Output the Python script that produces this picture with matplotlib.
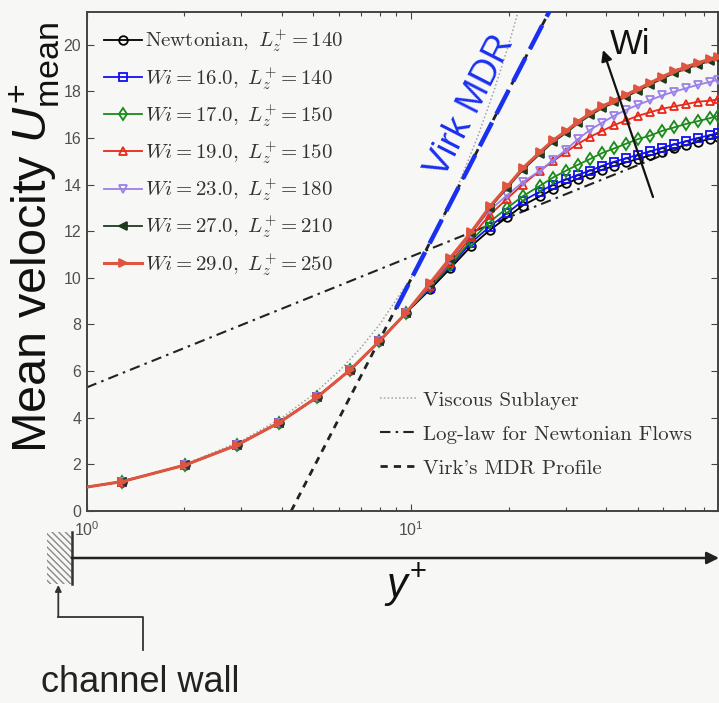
import matplotlib
matplotlib.use('Agg')
import matplotlib.pyplot as plt
from matplotlib.patches import Rectangle
from matplotlib.font_manager import FontProperties

plt.rcParams['mathtext.fontset'] = 'custom'
plt.rcParams['mathtext.rm'] = 'Liberation Sans'
plt.rcParams['mathtext.it'] = 'Liberation Sans:italic'
plt.rcParams['mathtext.bf'] = 'Liberation Sans:bold'
plt.rcParams['font.family'] = ['Liberation Sans', 'DejaVu Sans']
plt.rcParams['hatch.color'] = '#666666'
plt.rcParams['hatch.linewidth'] = 1.0

# ---------------- data ----------------
yplus = [0.72, 1.285, 2.01, 2.91, 3.92, 5.13, 6.49, 7.97, 9.63,
         11.44, 13.2, 15.3, 17.5, 19.8, 22.1, 25.0, 27.4, 30.1, 32.7, 35.7,
         38.8, 42.3, 46.0, 50.1, 54.6, 59.4, 64.7, 70.5, 76.7, 83.6, 88.4]
u_near_wall = [0.72, 1.26, 1.97, 2.83, 3.79, 4.88, 6.05, 7.27, 8.48]

u_newt = [9.50, 10.40, 11.35, 12.05, 12.60, 13.10, 13.50, 13.80, 14.05, 14.25, 14.45,
          14.63, 14.80, 14.95, 15.10, 15.25, 15.40, 15.55, 15.70, 15.83, 15.96, 16.05]
u_wi16 = [9.56, 10.49, 11.50, 12.20, 12.78, 13.30, 13.70, 14.00, 14.22, 14.42, 14.60,
          14.80, 14.98, 15.12, 15.28, 15.42, 15.58, 15.72, 15.86, 16.00, 16.12, 16.22]
u_wi17 = [9.60, 10.55, 11.60, 12.40, 13.00, 13.50, 13.95, 14.30, 14.60, 14.85, 15.10,
          15.35, 15.55, 15.75, 15.95, 16.10, 16.30, 16.45, 16.60, 16.72, 16.85, 16.95]
u_wi19 = [9.65, 10.65, 11.75, 12.70, 13.40, 14.00, 14.60, 15.00, 15.40, 15.75, 16.05,
          16.30, 16.55, 16.75, 16.95, 17.10, 17.25, 17.35, 17.45, 17.55, 17.60, 17.65]
u_wi23 = [9.70, 10.75, 11.90, 12.90, 13.55, 14.10, 14.60, 15.05, 15.50, 15.95, 16.35,
          16.65, 16.95, 17.20, 17.42, 17.62, 17.82, 17.98, 18.13, 18.28, 18.40, 18.50]
u_wi27 = [9.75, 10.82, 11.92, 13.00, 13.85, 14.62, 15.32, 15.82, 16.22, 16.62, 16.97,
          17.27, 17.52, 17.77, 18.02, 18.28, 18.54, 18.77, 18.97, 19.14, 19.30, 19.38]
u_wi29 = [9.77, 10.85, 11.95, 13.06, 13.92, 14.70, 15.40, 15.90, 16.30, 16.70, 17.05,
          17.35, 17.60, 17.85, 18.10, 18.36, 18.62, 18.85, 19.05, 19.22, 19.38, 19.45]

series_labels = [r'$\mathrm{Newtonian},\ L_z^{+}=140$',
                 r'$Wi=16.0,\ L_z^{+}=140$',
                 r'$Wi=17.0,\ L_z^{+}=150$',
                 r'$Wi=19.0,\ L_z^{+}=150$',
                 r'$Wi=23.0,\ L_z^{+}=180$',
                 r'$Wi=27.0,\ L_z^{+}=210$',
                 r'$Wi=29.0,\ L_z^{+}=250$']
ref_labels = ['Viscous Sublayer', 'Log-law for Newtonian Flows', "Virk's MDR Profile"]

# reference laws (values at line end points / sample points)
visc_y = [1, 1.5, 2, 3, 4, 5, 6, 7, 8, 10, 12, 14, 16, 18, 20, 22]
visc_u = [1, 1.5, 2, 3, 4, 5, 6, 7, 8, 10, 12, 14, 16, 18, 20, 22]
loglaw_y = [1.0, 88.4]
loglaw_u = [5.30, 16.22]
mdr_y = [4.27, 30.0]
mdr_u = [0.0, 22.79]
mdr_hand_y = [9.0, 30.0]
mdr_hand_u = [8.7, 22.79]

yticks = [0, 2, 4, 6, 8, 10, 12, 14, 16, 18, 20]

# ---------------- figure ----------------
W, H = 719, 703
bg = '#f7f8f6'
fig = plt.figure(figsize=(W / 100, H / 100), dpi=100)
fig.patch.set_facecolor(bg)

x0, x1, ytop, ybot = 86.7, 718.0, 12.0, 511.0
ax = fig.add_axes([x0 / W, (H - ybot) / H, (x1 - x0) / W, (ybot - ytop) / H])
ax.set_facecolor(bg)
ax.set_xscale('log')
ax.set_xlim(1, 88.4)
ax.set_ylim(0, 21.4)
ax.set_yticks(yticks)

# reference lines
l_visc, = ax.plot(visc_y, visc_u, color='#a0a0a0', lw=1.1, ls=(0, (1, 1.5)), zorder=1)
l_log, = ax.plot(loglaw_y, loglaw_u, color='#222222', lw=1.5,
                 dashes=(5, 2.5, 1.2, 2.5), zorder=1)
l_mdr, = ax.plot(mdr_y, mdr_u, color='#222222', lw=2.0, dashes=(2.6, 2.2), zorder=1)

styles = [
    dict(color='black', marker='o', mfc='none'),
    dict(color='#1010f0', marker='s', mfc='none'),
    dict(color='#1a8a1a', marker='d', mfc='none'),
    dict(color='#e8281a', marker='^', mfc='none'),
    dict(color='#9a80e8', marker='v', mfc='none'),
    dict(color='#1e3a1e', marker='<', mfc='#1e3a1e'),
    dict(color='#e0553f', marker='>', mfc='#e0553f'),
]
tails = [u_newt, u_wi16, u_wi17, u_wi19, u_wi23, u_wi27, u_wi29]
handles = []
for i, (tail, st, lab) in enumerate(zip(tails, styles, series_labels)):
    lw = 2.2 if i == 6 else 1.3
    h, = ax.plot(yplus, u_near_wall + tail, lw=lw, ms=6.2, mew=1.3,
                 label=lab, zorder=2 + i, **st)
    handles.append(h)

# blue hand-drawn MDR annotation
ax.plot(mdr_hand_y, mdr_hand_u, color='#1a30f0', lw=3.2, dashes=(6, 2.2), zorder=10)

# ticks
ax.tick_params(axis='both', which='both', direction='in', top=True, right=True,
               color='#444444', width=0.8)
ax.tick_params(axis='both', which='major', length=5, labelsize=11.5,
               labelcolor='#505050')
ax.tick_params(axis='x', which='major', pad=7)
ax.tick_params(axis='y', which='major', pad=4)
ax.tick_params(axis='both', which='minor', length=3)
for s in ax.spines.values():
    s.set_color('#444444')
    s.set_linewidth(1.4)

# legends
lp = FontProperties(family='cmr10', size=15, math_fontfamily='cm')
leg1 = ax.legend(handles=handles, loc='upper left',
                 bbox_to_anchor=((104 - x0) / (x1 - x0), (ybot - 28) / (ybot - ytop)),
                 prop=lp, frameon=False, borderpad=0, borderaxespad=0,
                 handlelength=1.8, handletextpad=0.15, labelspacing=0.52)
for t in leg1.get_texts():
    t.set_color('#333333')
ax.add_artist(leg1)
leg2 = ax.legend([l_visc, l_log, l_mdr], ref_labels,
                 loc='upper left',
                 bbox_to_anchor=((380 - x0) / (x1 - x0), (ybot - 391) / (ybot - ytop)),
                 prop=lp, frameon=False, borderpad=0, borderaxespad=0,
                 handlelength=1.8, handletextpad=0.25, labelspacing=0.74)
for t in leg2.get_texts():
    t.set_color('#333333')

# ---------------- overlay (annotations in pixel space) ----------------
ov = fig.add_axes([0, 0, 1, 1], facecolor='none')
ov.set_xlim(0, W)
ov.set_ylim(H, 0)
ov.axis('off')

ov.text(35, 238, r'Mean velocity $U^{+}_{\mathrm{mean}}$', rotation=90,
        fontsize=35, ha='center', va='center', color='#111111')

# wall + y+ axis
ov.add_patch(Rectangle((46.7, 532), 25, 52, hatch='\\\\\\\\\\', fill=False,
                       edgecolor='#888888', lw=0))
ov.plot([71.7, 71.7], [532, 584], color='#333333', lw=1.8)
ov.annotate('', xy=(719, 558), xytext=(71.7, 558),
            arrowprops=dict(arrowstyle='-|>', lw=1.8, color='#222222',
                            mutation_scale=18, shrinkA=0, shrinkB=0))
ov.text(405, 585, r'$y^{+}$', fontsize=30, ha='center', va='center', color='#111111')

# channel wall pointer
ov.plot([143.3, 143.3, 58.3], [650, 616.7, 616.7], color='#333333', lw=1.3)
ov.annotate('', xy=(58.3, 585), xytext=(58.3, 616.7),
            arrowprops=dict(arrowstyle='-|>', lw=1.3, color='#333333',
                            mutation_scale=9, shrinkA=0, shrinkB=0))
ov.text(140, 683, 'channel wall', fontsize=26, ha='center', va='center', color='#222222')

# Wi arrow
ov.annotate('', xy=(603, 50), xytext=(653, 197),
            arrowprops=dict(arrowstyle='-|>', lw=1.6, color='#111111',
                            mutation_scale=16, shrinkA=0, shrinkB=0))
ov.text(630, 44, 'Wi', fontsize=25, ha='center', va='center', color='#111111')

# Virk MDR label
ov.text(470, 106, 'Virk MDR', fontsize=26, rotation=63, ha='center', va='center',
        color='#1a30f0', rotation_mode='anchor')

fig.savefig('out.png', dpi=100, facecolor=bg)
